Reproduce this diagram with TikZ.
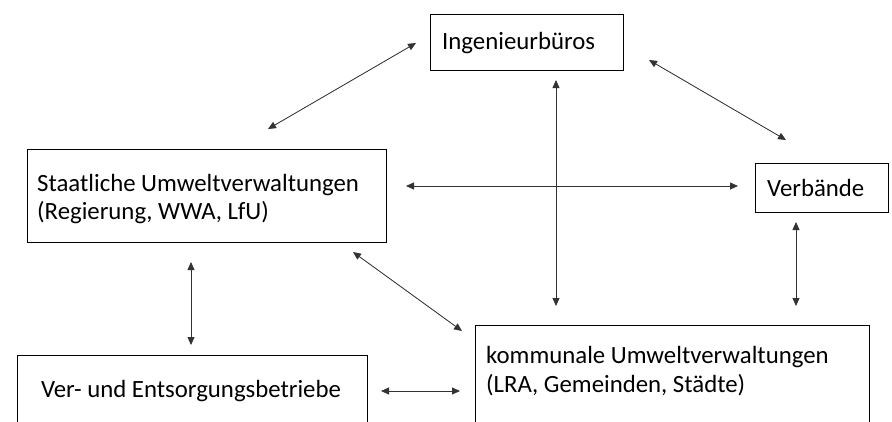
\documentclass[tikz,border=0pt]{standalone}
\usepackage{fontspec}
\setmainfont{Carlito}
\usetikzlibrary{arrows.meta}
\begin{document}
\begin{tikzpicture}[x=1pt,y=-1pt,
  box/.style={draw, line width=1.4pt, inner sep=0pt, anchor=north west},
  lbl/.style={font=\fontsize{24.8}{28.5}\selectfont, align=left, inner sep=0pt, anchor=west},
  link/.style={{Triangle[length=8pt,width=7pt]}-{Triangle[length=8pt,width=7pt]}, line width=0.8pt, draw=black!80, fill=black}]
\useasboundingbox (0,0) rectangle (892,421);
\clip (0,0) rectangle (892,421);
% boxes
\node[box, minimum width=193, minimum height=56] (ing) at (430,14) {};
\node[lbl] (ingt) at (442,43) {Ingenieurbüros};
\node[box, minimum width=359, minimum height=93] (sta) at (27,149) {};
\node[lbl] (stat) at (37,199) {Staatliche Umweltverwaltungen\\(Regierung, WWA, LfU)};
\node[box, minimum width=133, minimum height=49] (ver) at (755,163) {};
\node[lbl] (vert) at (767,188) {Verbände};
\node[box, minimum width=350, minimum height=100] (ent) at (17,355) {};
\node[lbl, anchor=center] (entt) at (191,391) {Ver- und Entsorgungsbetriebe};
\node[box, minimum width=394, minimum height=130] (kom) at (475,325) {};
\node[lbl] (komt) at (486,371) {kommunale Umweltverwaltungen\\(LRA, Gemeinden, Städte)};
% connector ends
\coordinate (a1) at (268,129); \coordinate (a2) at (416,43);
\coordinate (b1) at (649,60);  \coordinate (b2) at (786,140);
\coordinate (c1) at (406,186); \coordinate (c2) at (738,186);
\coordinate (d1) at (556,80);  \coordinate (d2) at (556,306);
\coordinate (e1) at (796,222); \coordinate (e2) at (796,306);
\coordinate (f1) at (191,262); \coordinate (f2) at (191,345);
\coordinate (g1) at (353,252); \coordinate (g2) at (462,331);
\coordinate (h1) at (381,391); \coordinate (h2) at (460,391);
% connectors
\draw[link] (a1) -- (a2);
\draw[link] (b1) -- (b2);
\draw[link] (c1) -- (c2);
\draw[link] (d1) -- (d2);
\draw[link] (e1) -- (e2);
\draw[link] (f1) -- (f2);
\draw[link] (g1) -- (g2);
\draw[link] (h1) -- (h2);
\end{tikzpicture}
\end{document}
